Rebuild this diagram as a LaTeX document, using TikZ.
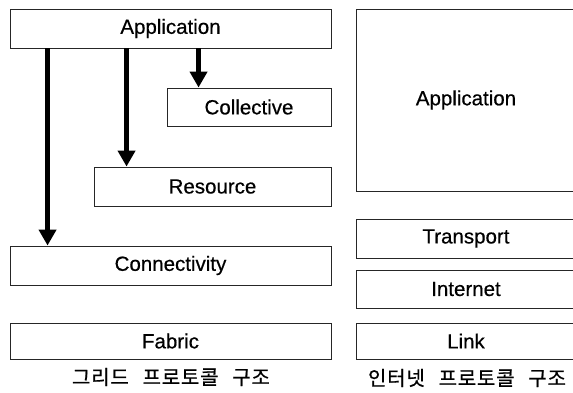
\documentclass[tikz,border=0pt]{standalone}
\usepackage{fontspec}
\setmainfont{Liberation Sans}[FakeBold=0.5]
\newfontfamily\krfont[LetterSpace=4,WordSpace=2.6,FakeBold=0.8]{Noto Sans CJK KR}
\usetikzlibrary{arrows.meta}

\begin{document}
\begin{tikzpicture}[x=1pt, y=-1pt, layer/.style={draw=black!85, line width=0.9pt, inner sep=0pt, minimum height=39pt, font=\fontsize{20.5}{24}\selectfont}, flow/.style={line width=5pt, -{Triangle[width=17pt,length=16pt]}}, caption/.style={font=\krfont\fontsize{20}{24}\selectfont}]
       \useasboundingbox (0,0) rectangle (573,392);
       \node[layer, minimum width=321pt] (gapp) at (170.5, 28.5) {Application};
       \node[layer, minimum width=164pt, minimum height=38pt] (gcol) at (249, 107) {Collective};
       \node[layer, minimum width=237pt] (gres) at (212.5, 186.5) {Resource};
       \node[layer, minimum width=321pt] (gcon) at (170.5, 265.5) {Connectivity};
       \node[layer, minimum width=321pt, minimum height=36pt] (gfab) at (170.5, 341) {Fabric};
       \node[caption] (gcap) at (171, 377) {그리드 프로토콜 구조};

       \node[layer, minimum width=220pt, minimum height=182pt] (iapp) at (466, 100) {Application};
       \node[layer, minimum width=220pt] (itra) at (466, 238.5) {Transport};
       \node[layer, minimum width=220pt, minimum height=38pt] (inet) at (466, 289) {Internet};
       \node[layer, minimum width=220pt, minimum height=36pt] (ilnk) at (466, 341) {Link};
       \node[caption] (icap) at (467, 378) {인터넷 프로토콜 구조};

       \draw[flow] ([xshift=38pt]gapp.south west) -- ([xshift=38pt]gcon.north west);
       \draw[flow] ([xshift=117pt]gapp.south west) -- ([xshift=33pt]gres.north west);
       \draw[flow] ([xshift=189pt]gapp.south west) -- ([xshift=32pt]gcol.north west);
     \end{tikzpicture}
\end{document}
